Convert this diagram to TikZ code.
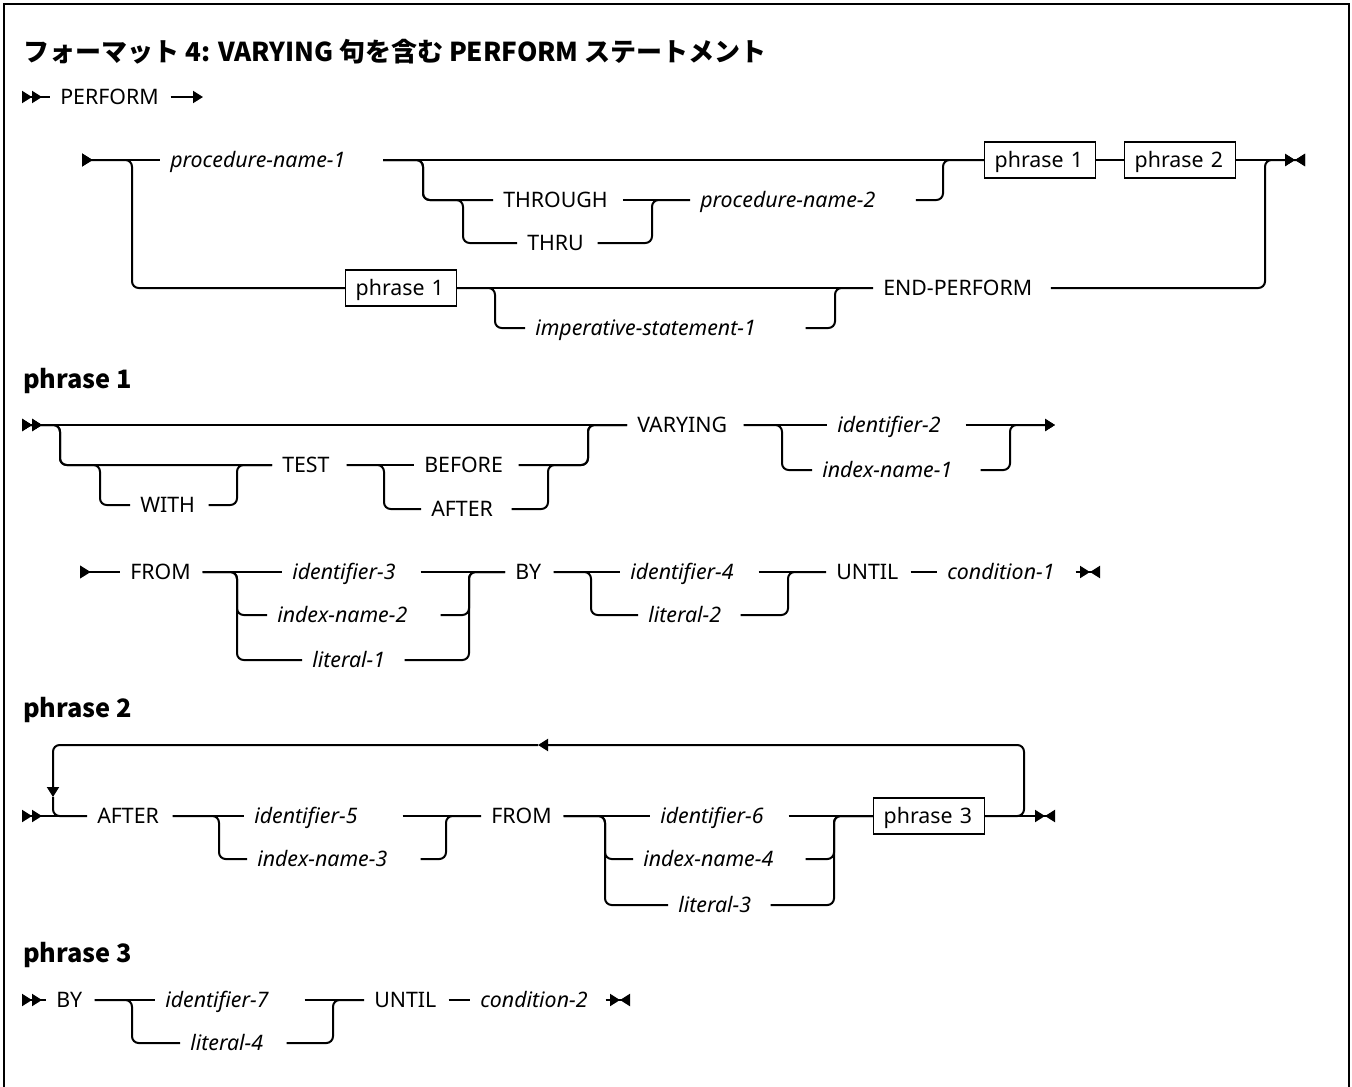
\documentclass[tikz,border=0pt]{standalone}
\usepackage{fontspec}
\setmainfont{Noto Sans}
\newfontfamily\jafont{Noto Sans CJK JP}
\usetikzlibrary{arrows.meta}
\newcommand\railfont{\fontsize{16}{19}\selectfont\exhyphenpenalty=10000 }

\begin{document}
\begin{tikzpicture}[x=0.75pt, y=-0.75pt,
  rail/.style={line width=1.5pt, rounded corners=5pt},
  startmark/.style={arrows={{Triangle[reversed,length=7.5pt,width=9pt]Triangle[reversed,length=7.5pt,width=9pt]}-}},
  startone/.style={arrows={{Triangle[reversed,length=8pt,width=9.5pt]}-}},
  arrowend/.style={arrows={-{Triangle[length=7.5pt,width=9pt]}}},
  endmark/.style={arrows={-{Triangle[length=7.5pt,width=9pt]Triangle[length=7.5pt,width=9pt,reversed]}}},
  kw/.style={anchor=west, inner xsep=7.5pt, inner ysep=0pt, text height=11.5pt, text depth=0pt, text width=#1, align=left, font=\railfont},
  var/.style={kw=#1, font=\railfont\itshape},
  phrasebox/.style={draw, line width=1.1pt, anchor=west, inner xsep=7.5pt, text width=68pt, minimum height=27pt, text height=11.5pt, text depth=0pt, align=left, font=\railfont},
  heading/.style={anchor=base west, inner sep=0pt, font=\fontsize{19}{22}\selectfont\jafont\bfseries},
  titletext/.style={anchor=base west, inner sep=0pt, font=\fontsize{19.5}{24}\selectfont\jafont\bfseries}
]
\useasboundingbox (0,0) rectangle (1352,1086);
\draw[line width=2pt] (4,1130) -- (4,4) -- (1349,4) -- (1349,1130);

\node[titletext] (ttl) at (23,61) {フォーマット 4: VARYING 句を含む PERFORM ステートメント};

% PERFORM
\coordinate (s0) at (22,97);
\node[kw=75pt] (perf) at (50,97) {PERFORM};
\coordinate (e0) at (203,97);
\draw[rail, startmark] (s0) -- (perf.west);
\draw[rail, arrowend] (perf.east) -- (e0);

% main diagram
\coordinate (s1) at (82,160);
\coordinate (b1) at (132,160);
\node[var=152pt] (pn1) at (160,160) {procedure-name-1};
\coordinate (b2) at (423,160);
\coordinate (b3) at (463,200);
\node[kw=82pt] (thr) at (493,200) {THROUGH};
\node[kw=45pt] (thru) at (517,243) {THRU};
\coordinate (j1) at (652,200);
\node[var=154pt] (pn2) at (690,200) {procedure-name-2};
\coordinate (j2) at (943,160);
\node[phrasebox] (p1a) at (984,160) {phrase 1};
\node[phrasebox] (p2a) at (1124,160) {phrase 2};
\coordinate (j3) at (1265,160);
\coordinate (e1) at (1305,160);
\node[phrasebox] (p1b) at (345,288) {phrase 1};
\coordinate (b4) at (495,288);
\node[var=195pt] (imp) at (525,328) {imperative-statement-1};
\coordinate (j4) at (835,288);
\node[kw=118pt] (endp) at (873,288) {END-PERFORM};

\draw[rail, startone] (s1) -- (pn1.west);
\draw[rail, startone] (s1) -- (b1) |- (p1b.west);
\draw[rail] (pn1.east) -- (p1a.west);
\draw[rail] (pn1.east) -- (b2) |- (thr.west);
\draw[rail] (pn1.east) -- (b2) |- (b3) |- (thru.west);
\draw[rail] (thr.east) -- (pn2.west);
\draw[rail] (thru.east) -| (j1) -- (pn2.west);
\draw[rail] (pn2.east) -| (j2) -- (p1a.west);
\draw[rail] (p1a.east) -- (p2a.west);
\draw[rail, endmark] (p2a.east) -- (e1);
\draw[rail] (p1b.east) -- (endp.west);
\draw[rail] (p1b.east) -- (b4) |- (imp.west);
\draw[rail] (imp.east) -| (j4) -- (endp.west);
\draw[rail, endmark] (endp.east) -| (j3) -- (e1);

% phrase 1
\node[heading] (h1) at (23,388) {phrase 1};
\coordinate (s2) at (22,425);
\coordinate (c1) at (60,425);
\coordinate (c2) at (100,465);
\node[kw=43.5pt] (with) at (130,505) {WITH};
\coordinate (c3) at (237,465);
\node[kw=40.5pt] (test) at (272,465) {TEST};
\coordinate (c4) at (384,465);
\node[kw=63pt] (bef) at (414,465) {BEFORE};
\node[kw=52.5pt] (aft) at (421,509) {AFTER};
\coordinate (c5) at (548,465);
\coordinate (c6) at (588,425);
\node[kw=72pt] (vary) at (627,425) {VARYING};
\coordinate (c7) at (782,425);
\node[var=88.5pt] (id2) at (827,425) {identifier-2};
\node[var=111pt] (in1) at (812,470) {index-name-1};
\coordinate (c8) at (1010,425);
\coordinate (e2) at (1055,425);

\draw[rail, startmark] (s2) -- (vary.west);
\draw[rail, startmark] (s2) -- (c1) |- (test.west);
\draw[rail, startmark] (s2) -- (c1) |- (c2) |- (with.west);
\draw[rail] (with.east) -| (c3) -- (test.west);
\draw[rail] (test.east) -- (bef.west);
\draw[rail] (test.east) -- (c4) |- (aft.west);
\draw[rail] (bef.east) -| (c6) -- (vary.west);
\draw[rail] (aft.east) -| (c5) -| (c6) -- (vary.west);
\draw[rail] (vary.east) -- (id2.west);
\draw[rail] (vary.east) -- (c7) |- (in1.west);
\draw[rail, arrowend] (id2.east) -- (e2);
\draw[rail, arrowend] (in1.east) -| (c8) -- (e2);

\coordinate (s3) at (80,572);
\node[kw=46.5pt] (from1) at (120,572) {FROM};
\coordinate (c9) at (237,572);
\node[var=88.5pt] (id3) at (282,572) {identifier-3};
\node[var=114.75pt] (in2) at (267,615) {index-name-2};
\node[var=61.5pt] (lit1) at (302,660) {literal-1};
\coordinate (c10) at (469,572);
\node[kw=21pt] (by1) at (505,572) {BY};
\coordinate (c11) at (591,572);
\node[var=88.5pt] (id4) at (620,572) {identifier-4};
\node[var=61.5pt] (lit2) at (638,615) {literal-2};
\coordinate (c12) at (788,572);
\node[kw=48pt] (until1) at (826,572) {UNTIL};
\node[var=88.5pt] (cond1) at (937,572) {condition-1};
\coordinate (e3) at (1100,572);

\draw[rail, startone] (s3) -- (from1.west);
\draw[rail] (from1.east) -- (id3.west);
\draw[rail] (from1.east) -- (c9) |- (in2.west);
\draw[rail] (from1.east) -- (c9) |- (lit1.west);
\draw[rail] (id3.east) -- (by1.west);
\draw[rail] (in2.east) -| (c10) -- (by1.west);
\draw[rail] (lit1.east) -| (c10) -- (by1.west);
\draw[rail] (by1.east) -- (id4.west);
\draw[rail] (by1.east) -- (c11) |- (lit2.west);
\draw[rail] (id4.east) -- (until1.west);
\draw[rail] (lit2.east) -| (c12) -- (until1.west);
\draw[rail] (until1.east) -- (cond1.west);
\draw[rail, endmark] (cond1.east) -- (e3);

% phrase 2
\node[heading] (h2) at (23,717) {phrase 2};
\coordinate (s4) at (22,816);
\node[kw=48.75pt] (after2) at (87,816) {AFTER};
\coordinate (c13) at (219,816);
\node[var=103.5pt] (id5) at (244,816) {identifier-5};
\node[var=114.75pt] (in3) at (247,859) {index-name-3};
\coordinate (c14) at (446,816);
\node[kw=46.5pt] (from2) at (481,816) {FROM};
\coordinate (c15) at (605,816);
\node[var=88.5pt] (id6) at (650,816) {identifier-6};
\node[var=114pt] (in4) at (633,859) {index-name-4};
\node[var=61.5pt] (lit3) at (668,905) {literal-3};
\coordinate (c16) at (834,816);
\node[phrasebox] (p3) at (873,816) {phrase 3};
\coordinate (e4) at (1055,816);
\coordinate (lr) at (1024,745);
\coordinate (lm) at (538,745);
\coordinate (ld) at (53,797);

\draw[rail, startmark] (s4) -- (after2.west);
\draw[rail, arrowend] (p3.east) -| (lr) -- (lm);
\draw[rail, arrowend] (lm) -| (ld);
\draw[rail] (ld) |- (after2.west);
\draw[rail] (after2.east) -- (id5.west);
\draw[rail] (after2.east) -- (c13) |- (in3.west);
\draw[rail] (id5.east) -- (from2.west);
\draw[rail] (in3.east) -| (c14) -- (from2.west);
\draw[rail] (from2.east) -- (id6.west);
\draw[rail] (from2.east) -- (c15) |- (in4.west);
\draw[rail] (from2.east) -- (c15) |- (lit3.west);
\draw[rail] (id6.east) -- (p3.west);
\draw[rail] (in4.east) -| (c16) -- (p3.west);
\draw[rail] (lit3.east) -| (c16) -- (p3.west);
\draw[rail, endmark] (p3.east) -- (e4);

% phrase 3
\node[heading] (h3) at (23,962) {phrase 3};
\coordinate (s5) at (22,1000);
\node[kw=21pt] (by3) at (46,1000) {BY};
\coordinate (c17) at (132,1000);
\node[var=96.75pt] (id7) at (155,1000) {identifier-7};
\node[var=64.5pt] (lit4) at (180,1043) {literal-4};
\coordinate (c18) at (333,1000);
\node[kw=48pt] (until3) at (364,1000) {UNTIL};
\node[var=86.25pt] (cond2) at (470,1000) {condition-2};
\coordinate (e5) at (630,1000);

\draw[rail, startmark] (s5) -- (by3.west);
\draw[rail] (by3.east) -- (id7.west);
\draw[rail] (by3.east) -- (c17) |- (lit4.west);
\draw[rail] (id7.east) -- (until3.west);
\draw[rail] (lit4.east) -| (c18) -- (until3.west);
\draw[rail] (until3.east) -- (cond2.west);
\draw[rail, endmark] (cond2.east) -- (e5);
\end{tikzpicture}
\end{document}
